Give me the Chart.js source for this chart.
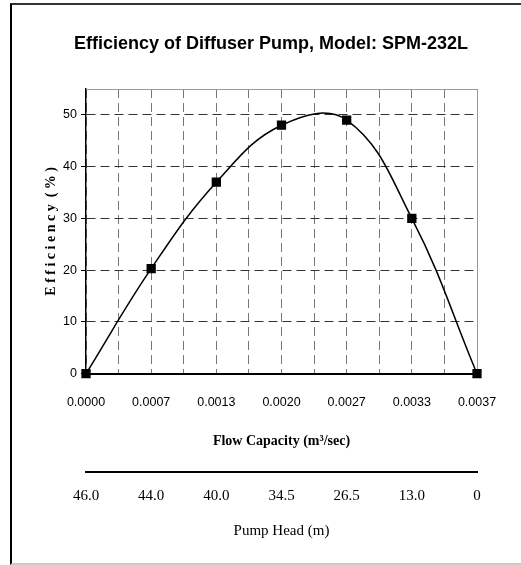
<!DOCTYPE html>
<html>
<head>
<meta charset="utf-8">
<script src="https://cdn.jsdelivr.net/npm/chart.js@4/dist/chart.umd.min.js"></script>
<style>
  html, body { margin: 0; padding: 0; background: #fff; }
  #wrap { position: relative; width: 521px; height: 565px; overflow: hidden; }
  #frame { position: absolute; left: 10px; top: 3px; width: 520px; height: 558px;
           border-left: 2px solid #000; border-top: 2px solid #333; border-bottom: 2px solid #ccc;
           pointer-events: none; }
</style>
</head>
<body>
<div id="wrap">
  <canvas id="c"></canvas>
  <div id="frame"></div>
</div>
<script>
const flowLabels = ['0.0000', '0.0007', '0.0013', '0.0020', '0.0027', '0.0033', '0.0037'];
const efficiency = [0, 20.3, 37, 48, 49, 30, 0];
const pumpHeadLabels = ['46.0', '44.0', '40.0', '34.5', '26.5', '13.0', '0'];
const yTicks = [0, 10, 20, 30, 40, 50];

const SANS = '"Liberation Sans", Arial, sans-serif';
const SERIF = '"Liberation Serif", "Times New Roman", serif';

const areaBorder = {
  id: 'areaBorder',
  beforeDatasetsDraw(chart) {
    const {ctx, chartArea: a} = chart;
    ctx.save();
    ctx.strokeStyle = '#999';
    ctx.lineWidth = 1;
    ctx.beginPath();
    ctx.moveTo(a.left, a.top + 0.5);
    ctx.lineTo(a.right + 0.5, a.top + 0.5);
    ctx.lineTo(a.right + 0.5, a.bottom);
    ctx.stroke();
    ctx.restore();
  }
};

new Chart(document.getElementById('c'), {
  type: 'line',
  data: {
    datasets: [{
      data: efficiency.map((v, i) => ({x: i, y: v})),
      borderColor: '#000',
      borderWidth: 1.5,
      backgroundColor: '#000',
      pointStyle: 'rect',
      pointRadius: 5.5,
      pointHoverRadius: 5.5,
      tension: 0.4,
      fill: false,
      clip: false,
      xAxisID: 'x',
      yAxisID: 'y'
    }]
  },
  options: {
    responsive: true,
    maintainAspectRatio: false,
    animation: false,
    layout: { padding: { left: 36, right: 15, top: 10, bottom: 21 } },
    plugins: {
      legend: { display: false },
      tooltip: { enabled: false },
      title: {
        display: true,
        text: 'Efficiency of Diffuser Pump, Model: SPM-232L',
        color: '#000',
        font: { family: SANS, size: 18, weight: 'bold' },
        padding: { top: 23, bottom: 34.4 }
      }
    },
    scales: {
      x: {
        type: 'linear',
        position: 'bottom',
        min: 0, max: flowLabels.length - 1,
        ticks: {
          stepSize: 0.5,
          autoSkip: false,
          maxRotation: 0,
          padding: 21,
          color: '#000',
          font: { family: SANS, size: 12.5 },
          callback: v => Number.isInteger(v) ? flowLabels[v] : ''
        },
        grid: { color: '#777', lineWidth: 1, drawTicks: false },
        border: { display: true, color: '#000', width: 2, dash: [9, 5] },
        title: {
          display: true,
          text: 'Flow Capacity (m³/sec)',
          color: '#000',
          font: { family: SERIF, size: 14, weight: 'bold' },
          padding: { top: 2.5, bottom: 22 }
        }
      },
      x2: {
        type: 'linear',
        position: 'bottom',
        min: 0, max: pumpHeadLabels.length - 1,
        ticks: {
          stepSize: 1,
          autoSkip: false,
          maxRotation: 0,
          padding: 15,
          color: '#000',
          font: { family: SERIF, size: 15 },
          callback: v => pumpHeadLabels[v]
        },
        grid: { display: false, drawTicks: false },
        border: { display: true, color: '#000', width: 2 },
        title: {
          display: true,
          text: 'Pump Head (m)',
          color: '#000',
          font: { family: SERIF, size: 15 },
          padding: { top: 2, bottom: 4 }
        }
      },
      y: {
        type: 'linear',
        position: 'left',
        min: 0, max: 55,
        afterBuildTicks: s => { s.ticks = yTicks.map(v => ({value: v})); },
        afterFit: s => { s.width = 50; },
        ticks: {
          padding: 4,
          color: '#000',
          font: { family: SANS, size: 12.5 }
        },
        grid: { color: '#333', lineWidth: 1, tickLength: 5, tickColor: '#000' },
        border: { display: true, color: '#000', width: 1.5, dash: [9, 5] },
        title: {
          display: true,
          text: 'E f f i c i e n c y  ( % )',
          color: '#000',
          font: { family: SERIF, size: 14, weight: 'bold' },
          padding: { top: 6.6, bottom: 0 }
        }
      },
      yPad: {
        type: 'linear',
        position: 'right',
        min: 0, max: 55,
        afterFit: s => { s.width = 29; },
        ticks: { display: false },
        grid: { display: false, drawTicks: false },
        border: { display: false },
        title: { display: false }
      }
    }
  },
  plugins: [areaBorder]
});
</script>
</body>
</html>
